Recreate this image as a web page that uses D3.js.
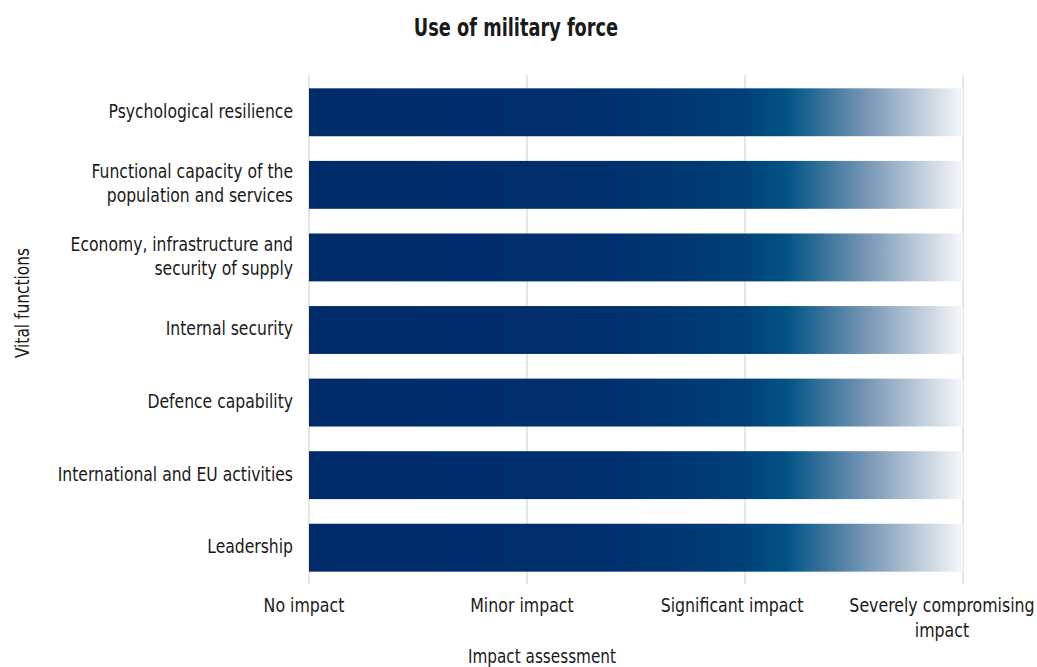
<!DOCTYPE html>
<html>
<head>
<meta charset="utf-8">
<script src="https://cdn.jsdelivr.net/npm/d3@7"></script>
<style>
  html, body { margin: 0; padding: 0; background: #fff; }
  svg text { font-family: "DejaVu Sans Condensed", "Liberation Sans Narrow", sans-serif; fill: #1a1a1a; }
</style>
</head>
<body>
<svg id="chart" width="1037" height="667"></svg>
<script>
// Vital functions (top to bottom) and their impact level (0..3)
const categories = [
  ["Psychological resilience"],
  ["Functional capacity of the", "population and services"],
  ["Economy, infrastructure and", "security of supply"],
  ["Internal security"],
  ["Defence capability"],
  ["International and EU activities"],
  ["Leadership"]
];
const impactValues = [3, 3, 3, 3, 3, 3, 3];
const tickLabels = [["No impact"], ["Minor impact"], ["Significant impact"], ["Severely compromising", "impact"]];
const tickValues = [0, 1, 2, 3];

const svg = d3.select("#chart");
const x = d3.scaleLinear().domain([0, 3]).range([309, 963]);
const y = d3.scaleBand().domain(d3.range(categories.length)).range([76, 584])
  .paddingInner(0.34).paddingOuter(0.17);

// Tick label nudges (px) so wider labels stay inside the canvas
const tickNudge = [-5, -5, -13, -21];

// Narrow the text horizontally around its anchor point
const squeeze = (ax, k) => `translate(${ax},0) scale(${k},1) translate(${-ax},0)`;

// Gradient from navy to white along the impact axis
const defs = svg.append("defs");
const grad = defs.append("linearGradient").attr("id", "impactGrad")
  .attr("gradientUnits", "userSpaceOnUse")
  .attr("x1", x(0)).attr("x2", x(3)).attr("y1", 0).attr("y2", 0);
[[0, "#002b6b"], [0.45, "#002f6e"], [0.66, "#003f78"], [0.73, "#005384"],
 [0.86, "#7e9bb8"], [1, "#f7f8fa"]].forEach(([o, c]) =>
  grad.append("stop").attr("offset", o).attr("stop-color", c));

// Vertical gridlines
svg.append("g").selectAll("line").data(tickValues).join("line")
  .attr("x1", d => x(d)).attr("x2", d => x(d))
  .attr("y1", 75).attr("y2", 584)
  .attr("stroke", "#dedede").attr("stroke-width", 1.5);

// Bars
svg.append("g").selectAll("rect").data(impactValues).join("rect")
  .attr("x", x(0)).attr("y", (d, i) => y(i))
  .attr("width", d => x(d) - x(0)).attr("height", y.bandwidth())
  .attr("fill", "url(#impactGrad)");

// Category labels
const catG = svg.append("g");
categories.forEach((lines, i) => {
  const cy = y(i) + y.bandwidth() / 2;
  const lh = 24;
  const t = catG.append("text").attr("text-anchor", "end").attr("font-size", 19.5)
    .attr("transform", squeeze(293, 0.89));
  lines.forEach((s, k) => {
    t.append("tspan").attr("x", 293)
      .attr("y", cy + (k - (lines.length - 1) / 2) * lh + 5.5).text(s);
  });
});

// Tick labels
const tickG = svg.append("g");
tickLabels.forEach((lines, i) => {
  const cx = x(tickValues[i]) + tickNudge[i];
  const t = tickG.append("text").attr("text-anchor", "middle").attr("font-size", 19.5)
    .attr("transform", squeeze(cx, 0.9));
  lines.forEach((s, k) => {
    t.append("tspan").attr("x", cx).attr("y", 612 + k * 25).text(s);
  });
});

// Titles
svg.append("text").attr("x", 516).attr("y", 36).attr("text-anchor", "middle")
  .attr("font-size", 25).attr("font-weight", "bold")
  .attr("transform", squeeze(516, 0.79)).text("Use of military force");
svg.append("text").attr("x", 542).attr("y", 663).attr("text-anchor", "middle")
  .attr("font-size", 19.5).attr("transform", squeeze(542, 0.87)).text("Impact assessment");
svg.append("text").attr("transform", "translate(29,303) rotate(-90) scale(0.88,1)")
  .attr("text-anchor", "middle").attr("font-size", 19.5).text("Vital functions");
</script>
</body>
</html>
